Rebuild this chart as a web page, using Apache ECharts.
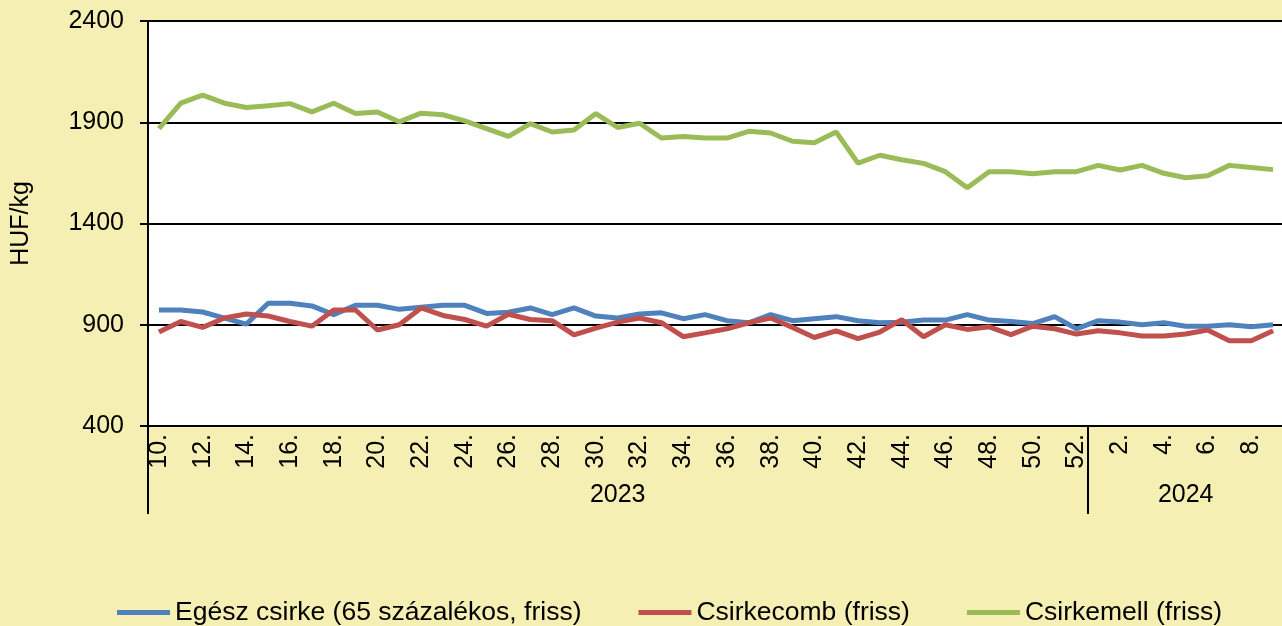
<!DOCTYPE html>
<html lang="hu" style="height: 100%">
<head>
    <meta charset="UTF-8">
    <title>Csirkehús árak</title>
    <script src="https://cdn.jsdelivr.net/npm/echarts@6/dist/echarts.min.js"></script>
</head>
<body style="height: 100%; margin: 0; background: #F5EFB3; overflow: hidden">
<div id="container" style="width: 1284px; height: 626px"></div>
</body>

<script type="text/javascript">
    // hetek: 2023. 10-52. hét, 2024. 1-9. hét
    var weeks = [];
    var years = [];
    for (var w = 10; w <= 52; w++) { weeks.push(w + '.'); years.push('2023'); }
    for (var w2 = 1; w2 <= 9; w2++) { weeks.push(w2 + '.'); years.push('2024'); }

    var egeszCsirke = [973, 973, 963, 933, 903, 1006, 1006, 993, 950, 996, 996, 976, 986, 996, 996, 956,
        962, 983, 950, 983, 943, 933, 953, 959, 930, 950, 920, 910, 950, 920, 930, 940, 920, 910,
        912, 923, 923, 950, 923, 916, 906, 940, 880, 920, 913, 900, 910, 893, 893, 900, 890, 900];
    var csirkecomb = [864, 916, 887, 933, 953, 943, 916, 893, 973, 973, 874, 900, 983, 946, 926, 893,
        952, 926, 920, 850, 883, 913, 933, 910, 841, 860, 880, 910, 933, 887, 837, 870, 831, 864,
        925, 841, 900, 877, 890, 851, 893, 880, 854, 870, 860, 844, 844, 854, 874, 821, 821, 870];
    var csirkemell = [1869, 1994, 2034, 1994, 1973, 1981, 1992, 1951, 1994, 1943, 1951, 1902, 1945, 1937, 1907, 1869,
        1830, 1893, 1852, 1862, 1943, 1874, 1895, 1822, 1830, 1822, 1822, 1855, 1847, 1806, 1799, 1852, 1698, 1737,
        1715, 1697, 1656, 1577, 1656, 1656, 1646, 1656, 1656, 1687, 1664, 1687, 1648, 1626, 1636, 1687, 1677, 1666];

    var seriesNames = ['Egész csirke (65 százalékos, friss)', 'Csirkecomb (friss)', 'Csirkemell (friss)'];
    var colors = ['#4F81BD', '#C0504D', '#9BBB59'];

    var dom = document.getElementById("container");
    var myChart = echarts.init(dom);

    var font = 'Arial, "Liberation Sans", sans-serif';

    function makeLine(name, data, color) {
        return {
            name: name,
            type: 'line',
            data: data,
            symbol: 'none',
            color: color,
            lineStyle: {width: 5, color: color},
            animation: false
        };
    }

    var option = {
        backgroundColor: '#F5EFB3',
        textStyle: {fontFamily: font, color: '#000'},
        grid: {left: 148, top: 21, right: 0, bottom: 200, backgroundColor: '#fff', show: true, borderWidth: 0},
        legend: {
            left: 112,
            top: 594,
            itemWidth: 53,
            itemHeight: 5,
            itemGap: 57,
            icon: 'rect',
            textStyle: {fontSize: 26.5, color: '#000', fontFamily: font},
            data: seriesNames
        },
        xAxis: [{
            type: 'category',
            data: weeks,
            boundaryGap: true,
            axisLine: {lineStyle: {color: '#000', width: 2}},
            axisTick: {show: false},
            axisLabel: {
                interval: 1,
                rotate: 90,
                margin: 8,
                fontSize: 25,
                color: '#000',
                fontFamily: font
            }
        }, {
            type: 'category',
            data: years,
            position: 'bottom',
            boundaryGap: true,
            axisLine: {show: false},
            axisTick: {
                show: true,
                length: 88,
                lineStyle: {color: '#000', width: 2},
                interval: function (index) { return index === 0 || index === 43; }
            },
            axisLabel: {
                interval: function (index) { return index === 21 || index === 47; },
                margin: 57,
                fontSize: 25,
                color: '#000',
                fontFamily: font
            }
        }],
        yAxis: {
            type: 'value',
            min: 400,
            max: 2400,
            interval: 500,
            name: 'HUF/kg',
            nameLocation: 'middle',
            nameGap: 114,
            nameTextStyle: {fontSize: 25, color: '#000', fontFamily: font},
            axisLine: {show: true, lineStyle: {color: '#000', width: 2}},
            axisTick: {show: true, length: 8, lineStyle: {color: '#000', width: 2}},
            axisLabel: {
                margin: 24,
                fontSize: 25,
                color: '#000',
                fontFamily: font,
                formatter: function (v) { return String(v); }
            },
            splitLine: {lineStyle: {color: '#000', width: 2}}
        },
        series: [
            makeLine(seriesNames[0], egeszCsirke, colors[0]),
            makeLine(seriesNames[1], csirkecomb, colors[1]),
            makeLine(seriesNames[2], csirkemell, colors[2])
        ]
    };

    myChart.setOption(option);
</script>
</html>
